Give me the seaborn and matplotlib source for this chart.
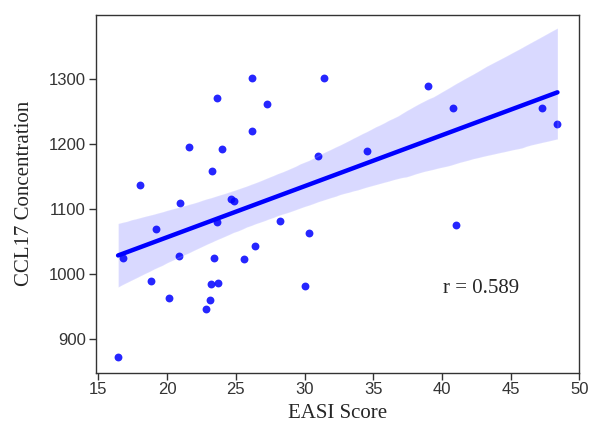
import numpy as np
import pandas as pd
import matplotlib
matplotlib.use("Agg")
import matplotlib.pyplot as plt
import seaborn as sns

easi = [17.99, 21.6, 23.6, 26.2, 27.3, 26.2, 24.0, 23.3, 31.4, 31.0,
        20.95, 24.64, 24.88, 16.78, 19.2, 20.83, 23.6, 23.38, 18.79, 20.17,
        23.16, 23.67, 23.11, 22.82, 25.59, 26.36, 28.21, 30.3, 30.03, 16.43,
        34.55, 39.0, 40.81, 47.27, 48.41, 41.0]
ccl17 = [1137, 1195, 1271, 1302, 1261, 1220, 1192, 1158, 1302, 1182,
         1110, 1115, 1112, 1025, 1070, 1028, 1080, 1025, 990, 963,
         985, 987, 960, 947, 1024, 1043, 1082, 1063, 982, 873,
         1189, 1289, 1255, 1256, 1230, 1076]
x_ticks = [15, 20, 25, 30, 35, 40, 45, 50]
y_ticks = [900, 1000, 1100, 1200, 1300]
r_label = "r = 0.589"

df = pd.DataFrame({"EASI Score": easi, "CCL17 Concentration": ccl17})

sns.set_style("ticks")
fig = plt.figure(figsize=(5.89, 4.36), dpi=100)
ax = fig.add_axes([0.1625, 0.1452, 0.821, 0.8204])

sns.regplot(data=df, x="EASI Score", y="CCL17 Concentration", ax=ax,
            color="blue", ci=95, n_boot=2000, seed=1,
            scatter_kws={"s": 32, "alpha": 0.85, "linewidths": 0},
            line_kws={"linewidth": 3.2})

ax.set_xlim(14.8, 50)
ax.set_ylim(849, 1398)
ax.set_xticks(x_ticks)
ax.set_yticks(y_ticks)
for lab in ax.get_xticklabels() + ax.get_yticklabels():
    lab.set_fontfamily("Liberation Sans")
    lab.set_fontsize(12)
    lab.set_color("#333333")
ax.tick_params(axis="both", length=5, width=1, color="#333333", pad=2)
for s in ax.spines.values():
    s.set_visible(True)
    s.set_color("#333333")
    s.set_linewidth(1)

ax.set_xlabel("EASI Score", family="Liberation Serif", fontsize=15, labelpad=5)
ax.set_ylabel("CCL17 Concentration", family="Liberation Serif", fontsize=15, labelpad=11)
ax.text(42.87, 978, r_label, family="Liberation Serif", fontsize=15,
        ha="center", va="center")

fig.savefig("out.png", dpi=100)
